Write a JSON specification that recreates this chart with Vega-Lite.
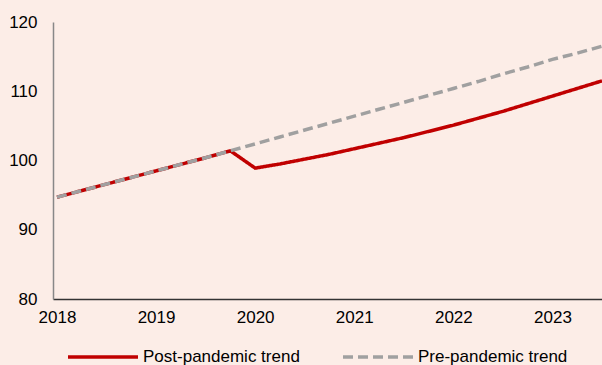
{
  "$schema": "https://vega.github.io/schema/vega-lite/v6.json",
  "width": 549,
  "height": 277,
  "autosize": {"type": "none"},
  "padding": {"left": 53, "top": 22, "right": 0, "bottom": 66},
  "background": "#FCEDE7",
  "config": {
    "view": {"stroke": null},
    "font": "Liberation Sans",
    "axis": {"labelFont": "Liberation Sans", "labelColor": "#000000", "grid": false, "ticks": false, "title": null}
  },
  "data": {
    "values": [
      {"t": 2018.0, "v": 94.7, "s": "Post-pandemic trend"},
      {"t": 2018.25, "v": 95.65, "s": "Post-pandemic trend"},
      {"t": 2018.5, "v": 96.6, "s": "Post-pandemic trend"},
      {"t": 2018.75, "v": 97.55, "s": "Post-pandemic trend"},
      {"t": 2019.0, "v": 98.5, "s": "Post-pandemic trend"},
      {"t": 2019.25, "v": 99.45, "s": "Post-pandemic trend"},
      {"t": 2019.5, "v": 100.4, "s": "Post-pandemic trend"},
      {"t": 2019.75, "v": 101.4, "s": "Post-pandemic trend"},
      {"t": 2020.0, "v": 98.9, "s": "Post-pandemic trend"},
      {"t": 2020.25, "v": 99.5, "s": "Post-pandemic trend"},
      {"t": 2020.5, "v": 100.2, "s": "Post-pandemic trend"},
      {"t": 2020.75, "v": 100.9, "s": "Post-pandemic trend"},
      {"t": 2021.0, "v": 101.7, "s": "Post-pandemic trend"},
      {"t": 2021.25, "v": 102.5, "s": "Post-pandemic trend"},
      {"t": 2021.5, "v": 103.3, "s": "Post-pandemic trend"},
      {"t": 2021.75, "v": 104.2, "s": "Post-pandemic trend"},
      {"t": 2022.0, "v": 105.1, "s": "Post-pandemic trend"},
      {"t": 2022.25, "v": 106.1, "s": "Post-pandemic trend"},
      {"t": 2022.5, "v": 107.1, "s": "Post-pandemic trend"},
      {"t": 2022.75, "v": 108.2, "s": "Post-pandemic trend"},
      {"t": 2023.0, "v": 109.3, "s": "Post-pandemic trend"},
      {"t": 2023.25, "v": 110.4, "s": "Post-pandemic trend"},
      {"t": 2023.5, "v": 111.5, "s": "Post-pandemic trend"},
      {"t": 2018.0, "v": 94.7, "s": "Pre-pandemic trend"},
      {"t": 2018.25, "v": 95.65, "s": "Pre-pandemic trend"},
      {"t": 2018.5, "v": 96.6, "s": "Pre-pandemic trend"},
      {"t": 2018.75, "v": 97.55, "s": "Pre-pandemic trend"},
      {"t": 2019.0, "v": 98.5, "s": "Pre-pandemic trend"},
      {"t": 2019.25, "v": 99.45, "s": "Pre-pandemic trend"},
      {"t": 2019.5, "v": 100.4, "s": "Pre-pandemic trend"},
      {"t": 2019.75, "v": 101.4, "s": "Pre-pandemic trend"},
      {"t": 2020.0, "v": 102.4, "s": "Pre-pandemic trend"},
      {"t": 2020.25, "v": 103.4, "s": "Pre-pandemic trend"},
      {"t": 2020.5, "v": 104.4, "s": "Pre-pandemic trend"},
      {"t": 2020.75, "v": 105.4, "s": "Pre-pandemic trend"},
      {"t": 2021.0, "v": 106.4, "s": "Pre-pandemic trend"},
      {"t": 2021.25, "v": 107.4, "s": "Pre-pandemic trend"},
      {"t": 2021.5, "v": 108.4, "s": "Pre-pandemic trend"},
      {"t": 2021.75, "v": 109.4, "s": "Pre-pandemic trend"},
      {"t": 2022.0, "v": 110.4, "s": "Pre-pandemic trend"},
      {"t": 2022.25, "v": 111.4, "s": "Pre-pandemic trend"},
      {"t": 2022.5, "v": 112.5, "s": "Pre-pandemic trend"},
      {"t": 2022.75, "v": 113.5, "s": "Pre-pandemic trend"},
      {"t": 2023.0, "v": 114.6, "s": "Pre-pandemic trend"},
      {"t": 2023.25, "v": 115.5, "s": "Pre-pandemic trend"},
      {"t": 2023.5, "v": 116.5, "s": "Pre-pandemic trend"}
    ]
  },
  "mark": {"type": "line", "strokeWidth": 3.5, "clip": true, "strokeCap": "butt"},
  "encoding": {
    "x": {
      "field": "t", "type": "quantitative",
      "scale": {"domain": [2017.96, 2023.5], "nice": false, "zero": false},
      "axis": {"values": [2018, 2019, 2020, 2021, 2022, 2023], "format": "d", "labelFontSize": 17, "labelPadding": 10, "domainColor": "#333333", "domainWidth": 1.5, "labelFlush": false}
    },
    "y": {
      "field": "v", "type": "quantitative",
      "scale": {"domain": [80, 120], "nice": false, "zero": false},
      "axis": {"values": [80, 90, 100, 110, 120], "labelFontSize": 17, "labelPadding": 16, "domainColor": "#888888", "domainWidth": 1.5, "labelBaseline": "middle"}
    },
    "color": {
      "field": "s", "type": "nominal",
      "scale": {"domain": ["Post-pandemic trend", "Pre-pandemic trend"], "range": ["#C00000", "#A0A0A0"]},
      "legend": {
        "title": null, "orient": "none", "direction": "horizontal",
        "legendX": 13, "legendY": 298, "padding": 0,
        "symbolType": "stroke", "symbolSize": 4900, "symbolStrokeWidth": 3.5,
        "labelFontSize": 17, "labelFont": "Liberation Sans", "labelColor": "#000000", "labelOffset": 3,
        "columnPadding": 36
      }
    },
    "strokeDash": {
      "field": "s", "type": "nominal",
      "scale": {"domain": ["Post-pandemic trend", "Pre-pandemic trend"], "range": [[1, 0], [10, 5]]},
      "legend": null
    }
  }
}
